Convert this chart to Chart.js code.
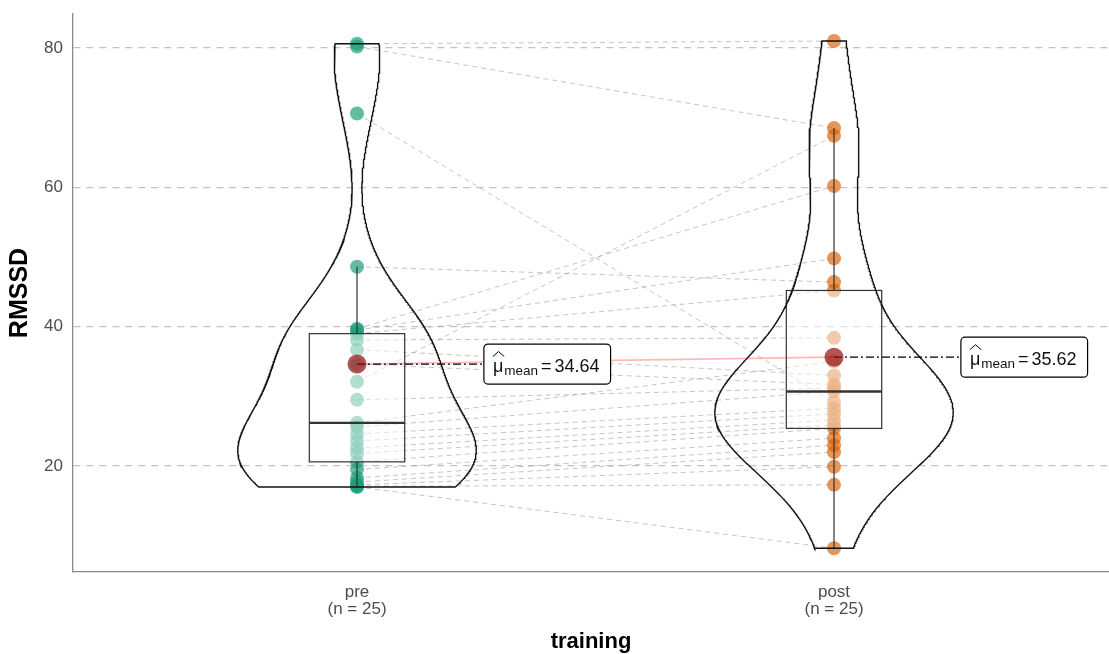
<!DOCTYPE html>
<html>
<head>
<meta charset="utf-8">
<script src="https://cdn.jsdelivr.net/npm/chart.js@4.4.1/dist/chart.umd.min.js"></script>
<style>
  html, body { margin: 0; padding: 0; background: #ffffff; }
  #wrap { width: 1109px; height: 654px; }
</style>
</head>
<body>
<div id="wrap"><canvas id="c" width="1109" height="654"></canvas></div>
<script>
// RMSSD per subject, before and after training (same subject order in both arrays)
const groups = ['pre', 'post'];
const rmssdPre  = [80.6, 80.2, 70.6, 48.6, 39.7, 39.5, 39.0, 38.1, 36.7, 34.6, 32.1, 29.5, 26.2,
                   25.6, 24.6, 23.6, 22.6, 21.8, 20.6, 19.5, 18.3, 17.7, 17.3, 17.1, 17.0];
const rmssdPost = [81.0, 68.5, 29.2, 46.4, 60.2, 49.8, 45.2, 38.4, 33.0, 31.7, 67.4, 31.2, 35.0,
                   30.7, 28.3, 27.5, 26.6, 25.9, 25.4, 24.0, 23.0, 22.0, 19.9, 17.3, 8.2];
const groupMeans = [34.64, 35.62];
const yTicks = [20, 40, 60, 80];

const series = [rmssdPre, rmssdPost];
const pointColors = ['rgba(27,158,119,0.68)', 'rgba(217,95,2,0.66)'];
const FONT = '"Liberation Sans", Arial, Helvetica, sans-serif';
const LABEL_SHIFT = 0.266;   // mean label sits to the right of its group
const BOX_HALF = 0.1;        // box width 0.2
const VIOLIN_HALF = 0.25;    // violin width 0.5

// ---------- statistics ----------
function sorted(a) { return a.slice().sort((p, q) => p - q); }
function quantile(a, p) {               // R type 7
  const s = sorted(a), h = (s.length - 1) * p, lo = Math.floor(h);
  return s[lo] + (h - lo) * ((s[Math.min(lo + 1, s.length - 1)]) - s[lo]);
}
function boxStats(a) {
  const q1 = quantile(a, 0.25), med = quantile(a, 0.5), q3 = quantile(a, 0.75);
  const iqr = q3 - q1;
  const inside = a.filter(v => v >= q1 - 1.5 * iqr && v <= q3 + 1.5 * iqr);
  return { q1, med, q3, lo: Math.min(...inside), hi: Math.max(...inside) };
}
function bwNrd0(a) {
  const n = a.length, m = a.reduce((s, v) => s + v, 0) / n;
  const sd = Math.sqrt(a.reduce((s, v) => s + (v - m) * (v - m), 0) / (n - 1));
  const lo = Math.min(sd, (quantile(a, 0.75) - quantile(a, 0.25)) / 1.34);
  return 0.9 * lo * Math.pow(n, -0.2);
}
function density(a, n) {
  const bw = bwNrd0(a), lo = Math.min(...a), hi = Math.max(...a);
  const out = [];
  for (let i = 0; i < n; i++) {
    const y = lo + (hi - lo) * i / (n - 1);
    let d = 0;
    for (const v of a) { const z = (y - v) / bw; d += Math.exp(-0.5 * z * z); }
    out.push({ y, d: d / (a.length * bw * Math.sqrt(2 * Math.PI)) });
  }
  return out;
}

// violin outlines, area-scaled against the widest density
const dens = series.map(a => density(a, 512));
const maxD = Math.max(...dens.flat().map(p => p.d));
function violinOutline(dd, xc) {
  const right = dd.map(p => ({ x: xc + VIOLIN_HALF * p.d / maxD, y: p.y }));
  const left = dd.slice().reverse().map(p => ({ x: xc - VIOLIN_HALF * p.d / maxD, y: p.y }));
  return right.concat(left, [right[0]]);
}

// ---------- datasets ----------
const datasets = [];
rmssdPre.forEach((v, i) => {
  datasets.push({
    data: [{ x: 1, y: v }, { x: 2, y: rmssdPost[i] }],
    showLine: true, borderColor: 'rgba(140,140,140,0.5)', borderWidth: 1,
    borderDash: [5, 4], pointRadius: 0, order: 100
  });
});
series.forEach((a, g) => {
  datasets.push({
    label: groups[g] + ' points',
    data: a.map(v => ({ x: g + 1, y: v })),
    pointRadius: 7, pointBackgroundColor: pointColors[g], pointBorderWidth: 0,
    order: 91 - g
  });
});
dens.forEach((dd, g) => {
  datasets.push({
    data: violinOutline(dd, g + 1), showLine: true, borderColor: '#111111',
    borderWidth: 1.4, pointRadius: 0, tension: 0, order: 80
  });
});
datasets.push({
  data: groupMeans.map((m, g) => ({ x: g + 1, y: m })), showLine: true,
  borderColor: 'rgba(255,0,0,0.28)', borderWidth: 1.8, pointRadius: 0, order: 70
});
groupMeans.forEach((m, g) => {
  datasets.push({
    data: [{ x: g + 1, y: m }, { x: g + 1 + LABEL_SHIFT, y: m }], showLine: true,
    borderColor: '#000000', borderWidth: 1.3, borderDash: [8, 3, 2, 3], pointRadius: 0, order: 60
  });
});
datasets.push({
  data: groupMeans.map((m, g) => ({ x: g + 1, y: m })),
  pointRadius: 9.5, pointBackgroundColor: 'rgba(150,20,20,0.72)', pointBorderWidth: 0, order: 50
});

// ---------- boxes drawn right above the points ----------
const boxPlugin = {
  id: 'boxes',
  afterDatasetDraw(chart, args) {
    if (chart.data.datasets[args.index].label !== 'post points') return;
    const { ctx, scales: { x, y }, chartArea } = chart;
    ctx.save();
    ctx.beginPath();
    ctx.rect(chartArea.left, chartArea.top, chartArea.right - chartArea.left, chartArea.bottom - chartArea.top);
    ctx.clip();
    series.forEach((a, g) => {
      const s = boxStats(a);
      const xl = x.getPixelForValue(g + 1 - BOX_HALF), xr = x.getPixelForValue(g + 1 + BOX_HALF);
      const xc = x.getPixelForValue(g + 1);
      const y1 = y.getPixelForValue(s.q1), y3 = y.getPixelForValue(s.q3);
      ctx.fillStyle = 'rgba(255,255,255,0.5)';
      ctx.fillRect(xl, y3, xr - xl, y1 - y3);
      ctx.strokeStyle = '#333333';
      ctx.lineWidth = 1.2;
      ctx.strokeRect(xl, y3, xr - xl, y1 - y3);
      ctx.beginPath();
      ctx.moveTo(xc, y3); ctx.lineTo(xc, y.getPixelForValue(s.hi));
      ctx.moveTo(xc, y1); ctx.lineTo(xc, y.getPixelForValue(s.lo));
      ctx.stroke();
      ctx.lineWidth = 2.3;
      const ym = y.getPixelForValue(s.med);
      ctx.beginPath(); ctx.moveTo(xl, ym); ctx.lineTo(xr, ym); ctx.stroke();
    });
    ctx.restore();
  }
};

// ---------- mean labels ----------
const labelPlugin = {
  id: 'meanLabels',
  afterDatasetsDraw(chart) {
    const { ctx, scales: { x, y } } = chart;
    groupMeans.forEach((m, g) => {
      const L = x.getPixelForValue(g + 1 + LABEL_SHIFT), Y = y.getPixelForValue(m);
      const num = m.toFixed(2);
      ctx.save();
      ctx.font = '18px ' + FONT;
      const wMu = ctx.measureText('\u03bc').width, wEq = ctx.measureText('=').width, wNum = ctx.measureText(num).width;
      ctx.font = '13.5px ' + FONT;
      const wSub = ctx.measureText('mean').width;
      const W = 9 + wMu + 1 + wSub + 3 + wEq + 3 + wNum + 11, H = 40;
      ctx.beginPath();
      ctx.roundRect(L, Y - H / 2, W, H, 4);
      ctx.fillStyle = '#ffffff'; ctx.fill();
      ctx.lineWidth = 1.2; ctx.strokeStyle = '#000000'; ctx.stroke();
      ctx.fillStyle = '#111111';
      ctx.textBaseline = 'alphabetic';
      let cx = L + 9;
      ctx.font = '18px ' + FONT;
      ctx.fillText('\u03bc', cx, Y + 8);
      // hat over mu
      ctx.beginPath();
      ctx.lineWidth = 1;
      ctx.moveTo(cx, Y - 7.5); ctx.lineTo(cx + wMu / 2 + 0.5, Y - 12.5); ctx.lineTo(cx + wMu + 1, Y - 7.5);
      ctx.stroke();
      cx += wMu + 1;
      ctx.font = '13.5px ' + FONT;
      ctx.fillText('mean', cx, Y + 11);
      cx += wSub + 3;
      ctx.font = '18px ' + FONT;
      ctx.fillText('=', cx, Y + 8);
      cx += wEq + 3;
      ctx.fillText(num, cx, Y + 8);
      ctx.restore();
    });
  }
};

new Chart(document.getElementById('c'), {
  type: 'scatter',
  data: { datasets },
  plugins: [boxPlugin, labelPlugin],
  options: {
    responsive: false, animation: false, devicePixelRatio: 1,
    layout: { autoPadding: false, padding: { top: 14, right: 0, bottom: 0, left: 0 } },
    plugins: { legend: { display: false }, tooltip: { enabled: false } },
    scales: {
      x: {
        type: 'linear', min: 0.4046, max: 2.5765,
        afterBuildTicks: s => { s.ticks = groups.map((_, g) => ({ value: g + 1 })); },
        afterFit: s => { s.height = 82; s.paddingLeft = 0; s.paddingRight = 0; },
        ticks: {
          autoSkip: false, maxRotation: 0, padding: 11, color: '#4d4d4d',
          font: { family: FONT, size: 17, lineHeight: 1.05 },
          callback: (v, i) => [groups[i], '(n = ' + series[i].length + ')']
        },
        grid: { display: false, drawTicks: false },
        border: { display: true, color: '#8a8a8a', width: 1.3 },
        title: { display: true, text: 'training', color: '#000000',
                 font: { family: FONT, size: 22, weight: 'bold', lineHeight: 1 }, padding: { top: 0, bottom: 1 } }
      },
      y: {
        type: 'linear', min: 4.79, max: 84.88,
        afterBuildTicks: s => { s.ticks = yTicks.map(v => ({ value: v })); },
        afterFit: s => { s.width = 73; s.paddingTop = 0; s.paddingBottom = 0; },
        ticks: { padding: 10, color: '#4d4d4d', font: { family: FONT, size: 17 } },
        grid: { color: '#c2c2c2', lineWidth: 1.2, drawTicks: false },
        border: { display: true, color: '#8a8a8a', width: 1.3, dash: [7, 6] },
        title: { display: true, text: 'RMSSD', color: '#000000',
                 font: { family: FONT, size: 25, weight: 'bold', lineHeight: 1 }, padding: { top: 8, bottom: 0 } }
      }
    }
  }
});
</script>
</body>
</html>
